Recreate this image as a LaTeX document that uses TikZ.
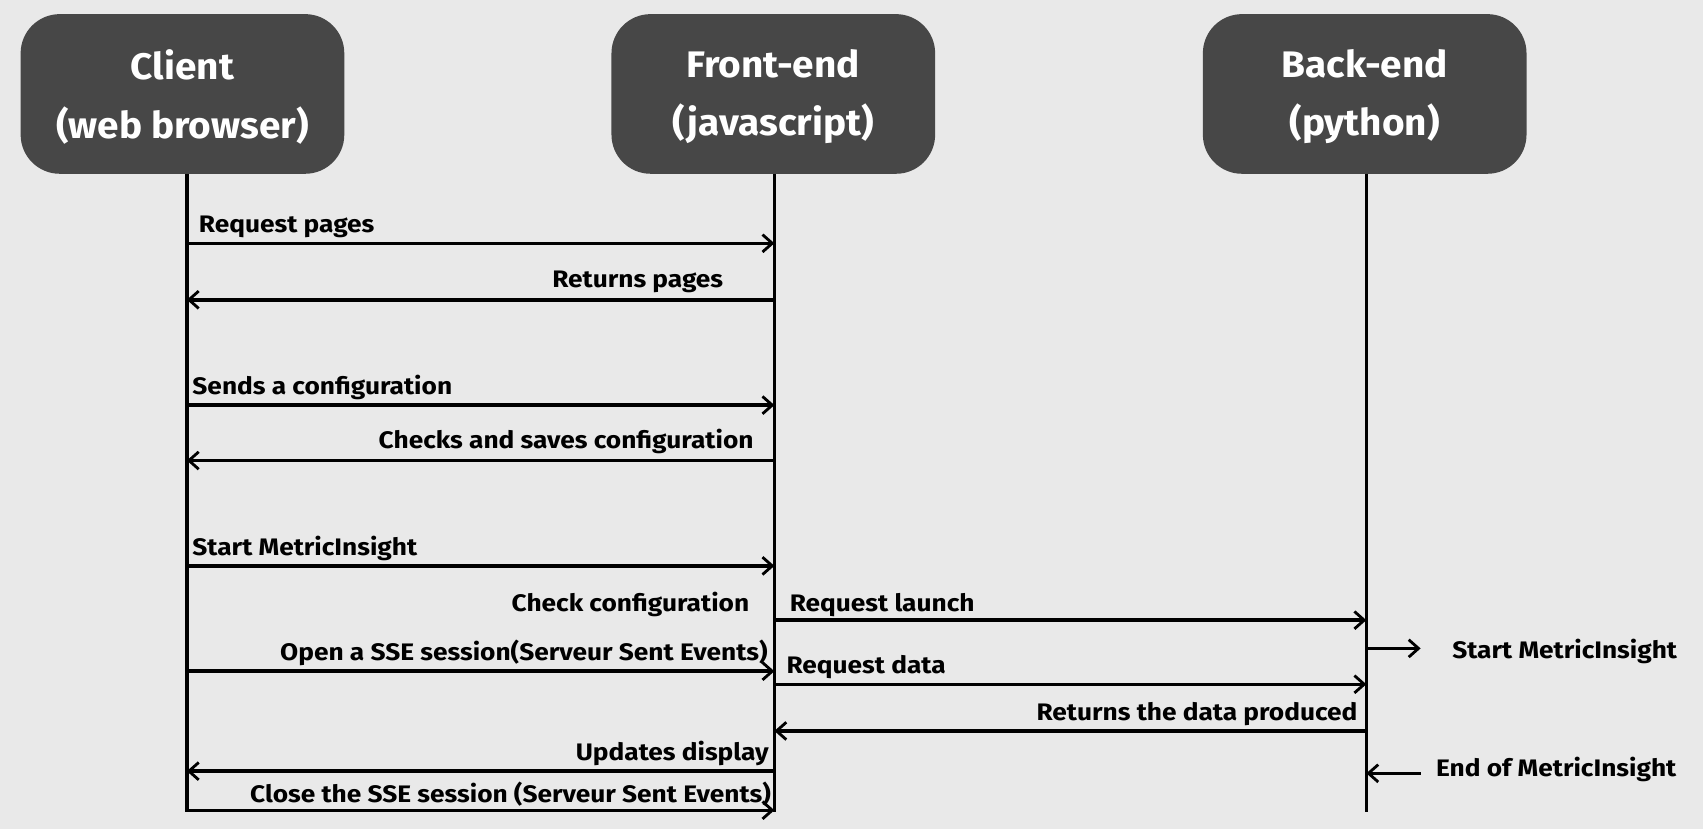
\documentclass[tikz,border=0pt]{standalone}
\usepackage{fontspec}
\setmainfont{Fira Sans}
\newfontfamily\labelfont[FakeStretch=1.1]{Fira Sans}
\newfontfamily\titlefont[FakeStretch=1.05]{Fira Sans}
\usetikzlibrary{arrows.meta}
\definecolor{paper}{RGB}{233,233,233}
\definecolor{boxgray}{RGB}{71,71,71}
\tikzset{
  actor/.style={fill=boxgray, rounded corners=36pt, minimum width=298pt, minimum height=147pt,
    text=white, font=\titlefont\fontsize{34}{54}\selectfont\bfseries, align=center, inner sep=0pt},
  titletext/.style={text=white, font=\titlefont\fontsize{34}{54}\selectfont\bfseries, align=center, inner sep=0pt},
  life/.style={line width=3.2pt, black},
  msg/.style={line width=3.2pt, black, -{Straight Barb[length=9pt,width=16pt,line width=2.6pt]}},
  lbl/.style={font=\labelfont\fontsize{22}{26}\selectfont\bfseries, inner sep=0pt, text=black}
}
\begin{document}
\begin{tikzpicture}[x=1pt,y=-1pt]
\fill[paper] (0,0) rectangle (1568,763);
\useasboundingbox (0,0) rectangle (1568,763);

\node[actor] (client) at (168,86.5) {};
\node[actor] (front) at (712,86.5) {};
\node[actor] (back) at (1256.5,86.5) {};
\node[titletext] (clientT) at (168,89) {Client\\(web browser)};
\node[titletext] (frontT) at (712,89) {Front-end\\(javascript)};
\node[titletext] (backT) at (1256.5,89) {Back-end\\(python)};

\coordinate (cTop) at (172,160);
\coordinate (cBot) at (172,748);
\coordinate (fTop) at (713,160);
\coordinate (fBot) at (713,748);
\coordinate (bTop) at (1258,160);
\coordinate (bBot) at (1258,748);
\draw[life] (cTop) -- (cBot);
\draw[life] (fTop) -- (fBot);
\draw[life] (bTop) -- (bBot);

\foreach \n/\y in {1/224,2/276,3/373,4/424,5/521,6/571,7/618,8/630,9/673,10/710,11/746}{
  \coordinate (C\n) at (172,\y);
  \coordinate (F\n) at (713,\y);
  \coordinate (B\n) at (1258,\y);
}
\coordinate (S1) at (1308,597);
\coordinate (S0) at (1258,597);
\coordinate (E1) at (1308,712);
\coordinate (E0) at (1258,712);

\draw[msg] (C1) -- (F1);
\draw[msg] (F2) -- (C2);
\draw[msg] (C3) -- (F3);
\draw[msg] (F4) -- (C4);
\draw[msg] (C5) -- (F5);
\draw[msg] (F6) -- (B6);
\draw[msg] (C7) -- (F7);
\draw[msg] (F8) -- (B8);
\draw[msg] (B9) -- (F9);
\draw[msg] (F10) -- (C10);
\draw[msg] (C11) -- (F11);
\draw[msg] (S0) -- (S1);
\draw[msg] (E1) -- (E0);

\node[lbl, anchor=base west] (l1) at (183,214) {Request pages};
\node[lbl, anchor=base east] (l2) at (666,265) {Returns pages};
\node[lbl, anchor=base west] (l3) at (177,363) {Sends a configuration};
\node[lbl, anchor=base east] (l4) at (694,413) {Checks and saves configuration};
\node[lbl, anchor=base west] (l5) at (177,511) {Start MetricInsight};
\node[lbl, anchor=base east] (l6) at (690,563) {Check configuration};
\node[lbl, anchor=base west] (l7) at (727,563) {Request launch};
\node[lbl, anchor=base east] (l8) at (707,608) {Open a SSE session(Serveur Sent Events)};
\node[lbl, anchor=base west] (l9) at (724,620) {Request data};
\node[lbl, anchor=base east] (l10) at (1250,663) {Returns the data produced};
\node[lbl, anchor=base east] (l11) at (708,700) {Updates display};
\node[lbl, anchor=base east] (l12) at (710,739) {Close the SSE session (Serveur Sent Events)};
\node[lbl, anchor=base west] (l13) at (1337,606) {Start MetricInsight};
\node[lbl, anchor=base west] (l14) at (1322,715) {End of MetricInsight};
\end{tikzpicture}
\end{document}
